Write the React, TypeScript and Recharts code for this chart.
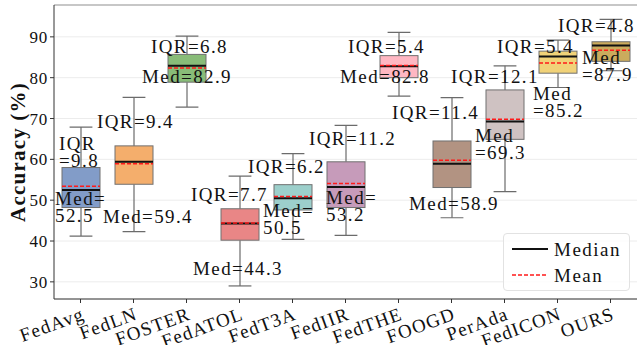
import React from "react";
import {
  ComposedChart,
  Bar,
  XAxis,
  YAxis,
  CartesianGrid,
  ReferenceLine,
} from "recharts";

const categories = [
  "FedAvg", "FedLN", "FOSTER", "FedATOL", "FedT3A", "FedIIR",
  "FedTHE", "FOOGD", "PerAda", "FedICON", "OURS",
];
const whiskerLow = [41.2, 42.3, 72.8, 29.0, 40.4, 41.4, 75.5, 45.7, 52.1, 77.6, 81.7];
const q1 = [48.2, 53.9, 78.9, 40.2, 47.6, 48.2, 80.0, 53.1, 64.9, 81.1, 84.0];
const medians = [52.5, 59.4, 82.9, 44.3, 50.5, 53.2, 82.8, 58.9, 69.3, 85.2, 87.9];
const q3 = [58.0, 63.3, 85.7, 47.9, 53.8, 59.4, 85.4, 64.5, 77.0, 86.5, 88.8];
const whiskerHigh = [67.9, 75.2, 90.2, 55.9, 61.4, 68.3, 91.1, 75.1, 82.9, 89.2, 94.3];
const means = [53.4, 58.9, 82.4, 44.4, 50.9, 54.1, 83.0, 59.8, 69.8, 83.6, 86.7];
const yTicks = [30, 40, 50, 60, 70, 80, 90];
const legendItems = ["Median", "Mean"];

const boxColors = [
  "#829cc8", "#f4ae6c", "#88bc78", "#e98686", "#9ccfcb", "#c69bba",
  "#ffb7c2", "#b29382", "#cfc2c2", "#f1d278", "#cbab5d",
];

// where the IQR / Med annotations sit: dx in px from the box centre, "at" in axis units
// split: "" one line, "after" -> "Med=" / "52.5", "before" -> "Med" / "=69.3"
const labelLayout = [
  { iqrDx: -22, iqrAt: 62.4, iqrSplit: "before", medDx: -26, medAt: 48.7, medSplit: "after" },
  { iqrDx: -37, iqrAt: 67.6, iqrSplit: "", medDx: -31, medAt: 44.3, medSplit: "" },
  { iqrDx: -36, iqrAt: 86.0, iqrSplit: "", medDx: -45, medAt: 78.7, medSplit: "" },
  { iqrDx: -49, iqrAt: 49.7, iqrSplit: "", medDx: -47, medAt: 31.6, medSplit: "" },
  { iqrDx: -45, iqrAt: 56.6, iqrSplit: "", medDx: -30, medAt: 45.8, medSplit: "after" },
  { iqrDx: -37, iqrAt: 63.5, iqrSplit: "", medDx: -20, medAt: 49.0, medSplit: "after" },
  { iqrDx: -51, iqrAt: 86.0, iqrSplit: "", medDx: -59, medAt: 78.7, medSplit: "" },
  { iqrDx: -60, iqrAt: 69.8, iqrSplit: "", medDx: -43, medAt: 47.5, medSplit: "" },
  { iqrDx: -54, iqrAt: 78.7, iqrSplit: "", medDx: -30, medAt: 64.2, medSplit: "before" },
  { iqrDx: -61, iqrAt: 86.0, iqrSplit: "", medDx: -25, medAt: 74.5, medSplit: "before" },
  { iqrDx: -53, iqrAt: 91.2, iqrSplit: "", medDx: -29, medAt: 83.3, medSplit: "before" },
];

const data = categories.map((name, i) => ({
  name,
  range: [whiskerLow[i], whiskerHigh[i]],
  lo: whiskerLow[i],
  hi: whiskerHigh[i],
  q1: q1[i],
  q3: q3[i],
  med: medians[i],
  mean: means[i],
}));

const Y_MIN = 25.8;
const Y_MAX = 97.8;
const FONT = "'Liberation Serif', 'Times New Roman', serif";
const LINE_H = 17;

function splitLabel(head: string, value: string, mode: string) {
  if (mode === "after") return [head + "=", value];
  if (mode === "before") return [head, "=" + value];
  return [head + "=" + value];
}

function Annotation({ x, y, lines }: { x: number; y: number; lines: string[] }) {
  return (
    <text x={x} y={y} fontSize={19} fontFamily={FONT} letterSpacing={1.4} fill="#111">
      {lines.map((l, k) => (
        <tspan key={k} x={x} dy={k === 0 ? 0 : LINE_H}>
          {l}
        </tspan>
      ))}
    </text>
  );
}

function BoxShape(props: any) {
  const { x, y, width, height, payload, index } = props;
  if (payload == null) return null;
  const d = payload;
  const py = (v: number) => y + ((d.hi - v) / (d.hi - d.lo)) * height;
  const cx = x + width / 2;
  const capW = width * 0.6;
  const lay = labelLayout[index];
  const iqrLines = splitLabel("IQR", (d.q3 - d.q1).toFixed(1), lay.iqrSplit);
  const medLines = splitLabel("Med", d.med.toFixed(1), lay.medSplit);
  return (
    <g>
      <line x1={cx} x2={cx} y1={py(d.hi)} y2={py(d.q3)} stroke="#6b6b6b" strokeWidth={1.2} />
      <line x1={cx} x2={cx} y1={py(d.q1)} y2={py(d.lo)} stroke="#6b6b6b" strokeWidth={1.2} />
      <line x1={cx - capW / 2} x2={cx + capW / 2} y1={py(d.hi)} y2={py(d.hi)} stroke="#6b6b6b" strokeWidth={1.2} />
      <line x1={cx - capW / 2} x2={cx + capW / 2} y1={py(d.lo)} y2={py(d.lo)} stroke="#6b6b6b" strokeWidth={1.2} />
      <rect
        x={x}
        y={py(d.q3)}
        width={width}
        height={py(d.q1) - py(d.q3)}
        fill={boxColors[index]}
        stroke="#707070"
        strokeWidth={1}
      />
      <line x1={x} x2={x + width} y1={py(d.med)} y2={py(d.med)} stroke="#111" strokeWidth={2} />
      <line
        x1={x}
        x2={x + width}
        y1={py(d.mean)}
        y2={py(d.mean)}
        stroke="#ff1a1a"
        strokeWidth={1.5}
        strokeDasharray="4 2"
      />
      <Annotation x={cx + lay.iqrDx} y={py(lay.iqrAt)} lines={iqrLines} />
      <Annotation x={cx + lay.medDx} y={py(lay.medAt)} lines={medLines} />
    </g>
  );
}

function XTick(props: any) {
  const { x, y, payload } = props;
  return (
    <g transform={`translate(${x + 5},${y + 14})`}>
      <text
        textAnchor="end"
        transform="rotate(-20)"
        fontSize={19}
        fontFamily={FONT}
        letterSpacing={1.2}
        fill="#111"
      >
        {payload.value}
      </text>
    </g>
  );
}

function YLabel(props: any) {
  const vb = props.viewBox;
  const cy = vb.y + vb.height / 2;
  return (
    <text
      x={18}
      y={cy}
      transform={`rotate(-90, 18, ${cy})`}
      textAnchor="middle"
      dominantBaseline="central"
      fontSize={21}
      fontWeight="bold"
      fontFamily={FONT}
      letterSpacing={1.2}
      fill="#111"
    >
      Accuracy (%)
    </text>
  );
}

function LegendBox() {
  const row = (dash: string | undefined, color: string, label: string) => (
    <div key={label} style={{ display: "flex", alignItems: "center", height: 26 }}>
      <svg width={44} height={10}>
        <line x1={4} x2={40} y1={5} y2={5} stroke={color} strokeWidth={dash ? 1.5 : 2} strokeDasharray={dash} />
      </svg>
      <span style={{ fontSize: 19, letterSpacing: 1.5, marginLeft: 2, color: "#111" }}>{label}</span>
    </div>
  );
  return (
    <div
      style={{
        position: "absolute",
        left: 503,
        top: 233,
        border: "1px solid #e2e2e2",
        borderRadius: 4,
        background: "rgba(255,255,255,0.8)",
        padding: "2px 4px",
        width: 117,
        fontFamily: FONT,
        lineHeight: 1,
      }}
    >
      {row(undefined, "#111", legendItems[0])}
      {row("4 2", "#ff1a1a", legendItems[1])}
    </div>
  );
}

export default function App() {
  return (
    <div style={{ position: "absolute", left: 0, top: 0, width: 637, height: 345, background: "#fff" }}>
      <ComposedChart
        width={637}
        height={345}
        data={data}
        margin={{ top: 5, right: 0, bottom: 0, left: 0 }}
        barCategoryGap={0}
      >
        <CartesianGrid vertical={false} stroke="#ececec" strokeWidth={1} />
        <XAxis
          dataKey="name"
          height={46}
          tick={<XTick />}
          tickSize={4}
          axisLine={{ stroke: "#333" }}
          tickLine={{ stroke: "#333" }}
          interval={0}
        />
        <YAxis
          width={54}
          domain={[Y_MIN, Y_MAX]}
          ticks={yTicks}
          type="number"
          allowDataOverflow
          tickSize={4}
          axisLine={{ stroke: "#333" }}
          tickLine={{ stroke: "#333" }}
          tick={{ fontSize: 17, fill: "#111", fontFamily: FONT, letterSpacing: 0.8 }}
          label={<YLabel />}
        />
        <ReferenceLine y={Y_MAX} stroke="#999" strokeWidth={1} />
        <Bar dataKey="range" barSize={38} shape={<BoxShape />} isAnimationActive={false} />
      </ComposedChart>
      <LegendBox />
    </div>
  );
}
